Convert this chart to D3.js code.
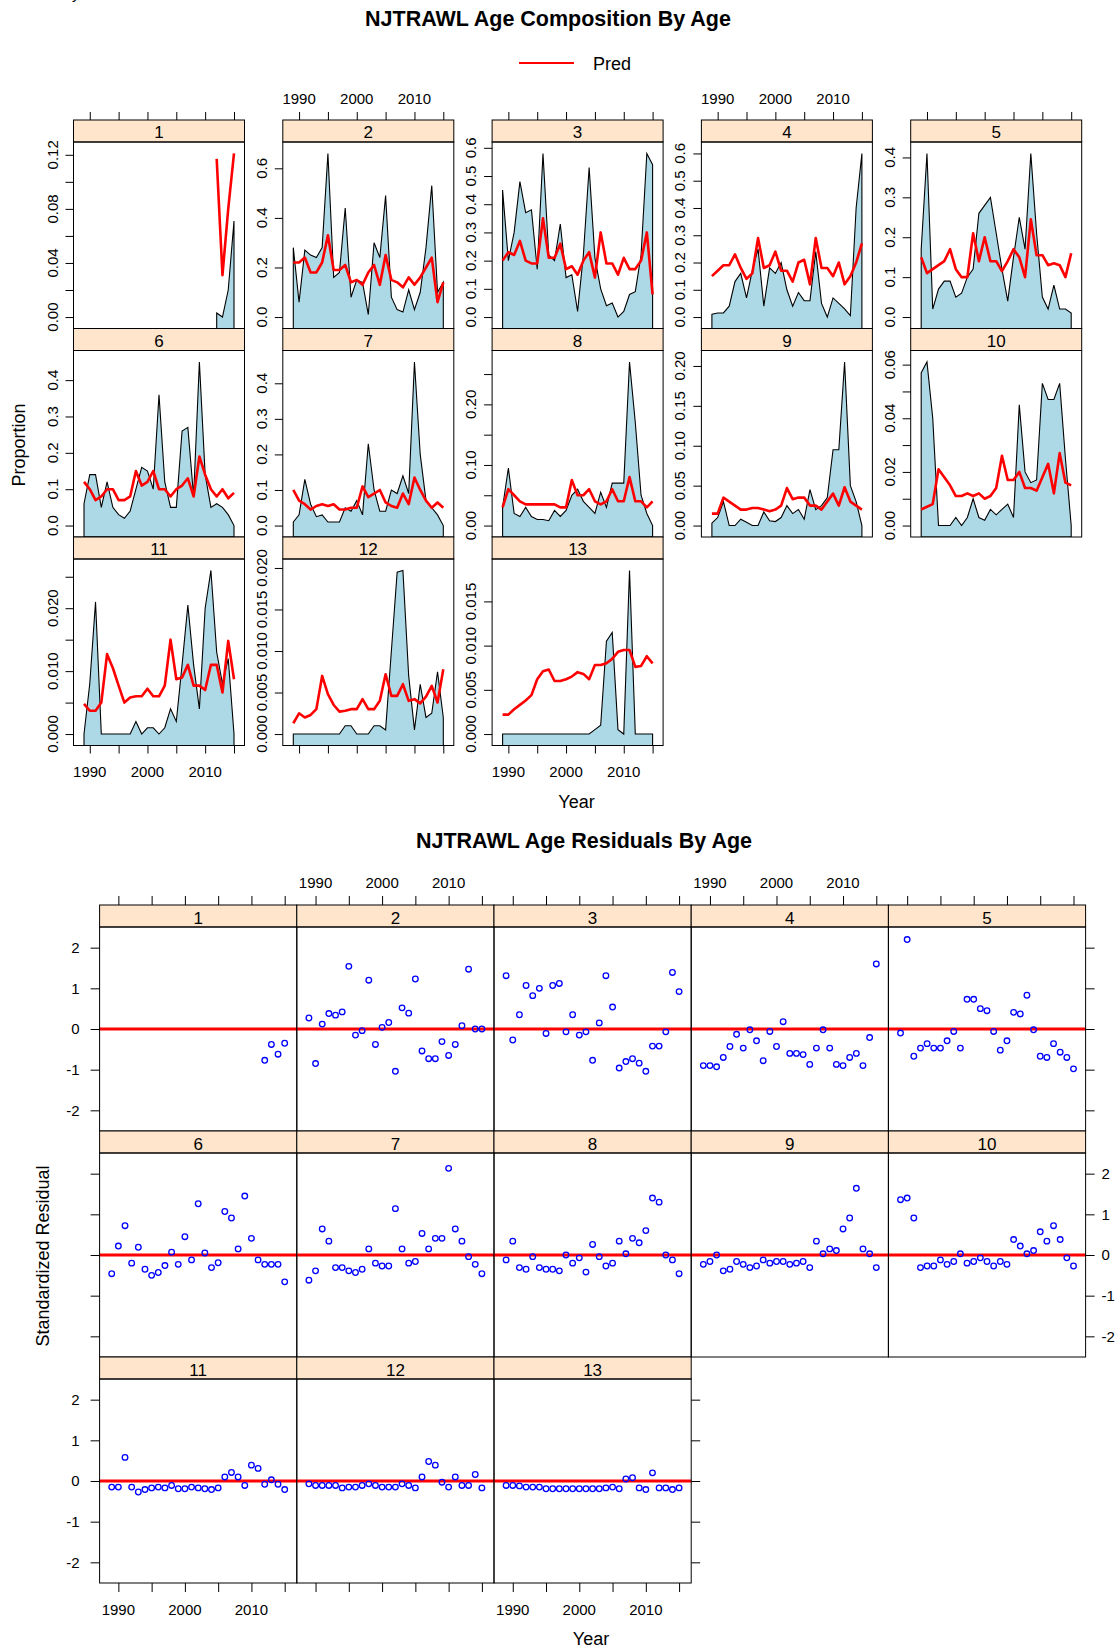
<!DOCTYPE html>
<html><head><meta charset="utf-8">
<script src="https://cdnjs.cloudflare.com/ajax/libs/d3/7.8.5/d3.min.js"></script>
<style>body{margin:0;background:#fff} svg{display:block;font-family:"Liberation Sans",Arial,Helvetica,sans-serif}</style>
</head><body><svg id="c" width="1120" height="1650"></svg>
<script>
// ---------------- DATA ----------------
const years = [1989,1990,1991,1992,1993,1994,1995,1996,1997,1998,1999,2000,2001,2002,2003,2004,2005,2006,2007,2008,2009,2010,2011,2012,2013,2014,2015];
const ages = ["1","2","3","4","5","6","7","8","9","10","11","12","13"];

const obs_1  = [null,null,null,null,null,null,null,null,null,null,null,null,null,null,null,null,null,null,null,null,null,null,null,0.003,0.0,0.02,0.071];
const pred_1 = [null,null,null,null,null,null,null,null,null,null,null,null,null,null,null,null,null,null,null,null,null,null,null,0.117,0.031,0.08,0.121];
const obs_2  = [0.28,0.06,0.27,0.25,0.24,0.28,0.66,0.16,0.18,0.44,0.08,0.15,0.14,0.01,0.30,0.24,0.49,0.08,0.03,0.02,0.11,0.03,0.10,0.28,0.53,0.10,0.14];
const pred_2 = [0.22,0.22,0.24,0.18,0.18,0.22,0.33,0.19,0.19,0.21,0.14,0.15,0.13,0.18,0.21,0.13,0.25,0.15,0.14,0.12,0.16,0.13,0.16,0.20,0.24,0.06,0.14];
const obs_3  = [0.45,0.20,0.30,0.48,0.37,0.38,0.17,0.58,0.22,0.20,0.33,0.14,0.15,0.02,0.22,0.53,0.21,0.10,0.04,0.05,0.00,0.02,0.08,0.09,0.22,0.58,0.54];
const pred_3 = [0.20,0.23,0.22,0.27,0.20,0.19,0.19,0.35,0.21,0.21,0.26,0.17,0.18,0.15,0.20,0.23,0.14,0.30,0.19,0.19,0.15,0.21,0.17,0.17,0.20,0.30,0.08];
const obs_4  = [0.01,0.015,0.015,0.04,0.13,0.16,0.07,0.17,0.25,0.04,0.18,0.16,0.20,0.10,0.04,0.09,0.06,0.06,0.24,0.05,0.00,0.07,0.05,0.03,0.005,0.40,0.60];
const pred_4 = [0.15,0.17,0.19,0.19,0.23,0.18,0.14,0.16,0.29,0.18,0.19,0.24,0.17,0.17,0.13,0.20,0.21,0.12,0.29,0.18,0.18,0.15,0.20,0.12,0.15,0.20,0.27];
const obs_5  = [0.17,0.41,0.02,0.07,0.09,0.09,0.05,0.06,0.10,0.12,0.26,0.28,0.30,0.21,0.12,0.04,0.15,0.25,0.17,0.41,0.21,0.05,0.02,0.08,0.02,0.02,0.01];
const pred_5 = [0.15,0.11,0.12,0.13,0.14,0.17,0.12,0.10,0.10,0.21,0.14,0.20,0.14,0.14,0.115,0.14,0.17,0.15,0.10,0.245,0.155,0.155,0.13,0.135,0.13,0.10,0.16];
const obs_6  = [0.06,0.14,0.14,0.05,0.12,0.05,0.03,0.02,0.04,0.10,0.16,0.15,0.10,0.36,0.12,0.05,0.05,0.26,0.27,0.08,0.45,0.14,0.05,0.06,0.05,0.03,0.00];
const pred_6 = [0.12,0.10,0.07,0.08,0.10,0.10,0.07,0.07,0.08,0.15,0.11,0.12,0.15,0.10,0.10,0.08,0.10,0.11,0.13,0.08,0.19,0.14,0.10,0.08,0.10,0.075,0.09];
const obs_7  = [0.01,0.03,0.13,0.06,0.025,0.03,0.01,0.01,0.01,0.05,0.04,0.07,0.03,0.23,0.10,0.04,0.04,0.10,0.09,0.14,0.09,0.46,0.20,0.07,0.05,0.03,0.00];
const pred_7 = [0.10,0.07,0.06,0.045,0.055,0.06,0.055,0.06,0.045,0.045,0.05,0.05,0.11,0.08,0.09,0.10,0.065,0.055,0.05,0.09,0.06,0.135,0.10,0.07,0.05,0.065,0.05];
const obs_8  = [0.03,0.095,0.02,0.015,0.03,0.015,0.01,0.01,0.008,0.025,0.015,0.025,0.05,0.06,0.04,0.03,0.02,0.055,0.03,0.07,0.07,0.07,0.27,0.17,0.05,0.02,0.00];
const pred_8 = [0.03,0.06,0.05,0.04,0.035,0.035,0.035,0.035,0.035,0.035,0.03,0.03,0.075,0.05,0.05,0.06,0.04,0.035,0.04,0.06,0.04,0.04,0.08,0.04,0.04,0.03,0.04];
const obs_9  = [0.003,0.01,0.03,0.0,0.0,0.008,0.004,0.0,0.0,0.017,0.006,0.005,0.01,0.025,0.015,0.02,0.008,0.045,0.02,0.025,0.035,0.095,0.095,0.205,0.05,0.03,0.0];
const pred_9 = [0.015,0.015,0.035,0.03,0.025,0.02,0.02,0.022,0.022,0.02,0.018,0.02,0.025,0.047,0.033,0.035,0.035,0.025,0.025,0.02,0.03,0.04,0.025,0.048,0.03,0.025,0.02];
const obs_10 = [0.057,0.061,0.04,0.0,0.0,0.0,0.003,0.0,0.003,0.01,0.003,0.002,0.006,0.004,0.006,0.008,0.003,0.045,0.02,0.016,0.017,0.053,0.047,0.047,0.053,0.025,0.0];
const pred_10= [0.006,0.007,0.008,0.021,0.018,0.015,0.011,0.011,0.012,0.011,0.012,0.010,0.011,0.014,0.026,0.017,0.017,0.02,0.014,0.014,0.013,0.018,0.023,0.012,0.027,0.016,0.015];
const obs_11 = [0.0,0.008,0.021,0.0,0.0,0.0,0.0,0.0,0.0,0.002,0.0,0.001,0.001,0.0,0.001,0.004,0.002,0.011,0.0205,0.011,0.004,0.02,0.026,0.013,0.008,0.012,0.0];
const pred_11= [0.0048,0.0037,0.0037,0.005,0.0127,0.0105,0.0077,0.005,0.0058,0.006,0.006,0.0072,0.006,0.006,0.0077,0.015,0.0087,0.009,0.011,0.0077,0.0077,0.007,0.011,0.011,0.0066,0.0148,0.0087];
const obs_12 = [0,0,0,0,0,0,0,0,0,0.001,0.001,0,0,0,0.001,0.001,0.0005,0.01,0.0195,0.0197,0.007,0.0005,0.006,0.002,0.0025,0.0075,0.002];
const pred_12= [0.0013,0.0025,0.002,0.0023,0.003,0.007,0.0048,0.0035,0.0027,0.0028,0.003,0.003,0.0042,0.003,0.003,0.004,0.0072,0.0046,0.0046,0.006,0.004,0.0042,0.0037,0.0045,0.0058,0.0038,0.0078];
const obs_13 = [0,0,0,0,0,0,0,0,0,0,0,0,0,0,0,0,0.0005,0.001,0.0105,0.0115,0.0005,0.0,0.0185,0,0,0,0];
const pred_13= [0.0022,0.0022,0.0028,0.0033,0.0038,0.0044,0.0062,0.0071,0.0073,0.006,0.006,0.0062,0.0065,0.007,0.0068,0.0062,0.0078,0.0078,0.008,0.0085,0.0093,0.0095,0.0095,0.0076,0.0077,0.0088,0.008];

const res_1  = [null,null,null,null,null,null,null,null,null,null,null,null,null,null,null,null,null,null,null,null,null,null,null,-0.77,-0.38,-0.62,-0.35];
const res_2  = [0.27,-0.85,0.12,0.38,0.34,0.42,1.54,-0.15,-0.04,1.2,-0.38,0.04,0.16,-1.04,0.52,0.39,1.23,-0.54,-0.73,-0.73,-0.31,-0.65,-0.38,0.08,1.47,0.0,0.0];
const res_3  = [1.31,-0.27,0.35,1.07,0.82,1.0,-0.11,1.07,1.12,-0.07,0.35,-0.15,-0.07,-0.77,0.15,1.31,0.54,-0.96,-0.8,-0.73,-0.84,-1.04,-0.42,-0.42,-0.07,1.39,0.92];
const res_4  = [-0.9,-0.9,-0.93,-0.7,-0.43,-0.13,-0.47,-0.02,-0.29,-0.78,-0.06,-0.43,0.18,-0.6,-0.6,-0.63,-0.87,-0.47,-0.02,-0.47,-0.87,-0.9,-0.7,-0.6,-0.9,-0.21,1.6];
const res_5  = [-0.1,2.2,-0.67,-0.47,-0.36,-0.47,-0.47,-0.29,-0.06,-0.47,0.73,0.73,0.5,0.45,-0.06,-0.52,-0.29,0.41,0.37,0.83,-0.02,-0.67,-0.7,-0.36,-0.57,-0.7,-0.98];
const res_6  = [-0.46,0.22,0.72,-0.2,0.19,-0.35,-0.5,-0.43,-0.26,0.07,-0.23,0.45,-0.12,1.26,0.05,-0.31,-0.19,1.07,0.91,0.15,1.45,0.41,-0.12,-0.23,-0.23,-0.23,-0.66];
const res_7  = [-0.62,-0.39,0.64,0.34,-0.31,-0.31,-0.39,-0.43,-0.35,0.15,-0.2,-0.27,-0.27,1.14,0.15,-0.2,-0.16,0.53,0.15,0.41,0.41,2.13,0.64,0.34,-0.04,-0.23,-0.46];
const res_8  = [-0.12,0.34,-0.31,-0.35,-0.04,-0.31,-0.35,-0.35,-0.39,0.0,-0.2,-0.07,-0.42,0.26,-0.04,-0.27,-0.2,0.34,0.03,0.41,0.3,0.6,1.4,1.3,0.0,-0.12,-0.46];
const res_9  = [-0.23,-0.16,0.0,-0.39,-0.35,-0.16,-0.23,-0.31,-0.27,-0.12,-0.2,-0.16,-0.16,-0.23,-0.2,-0.16,-0.31,0.34,0.03,0.15,0.11,0.64,0.91,1.64,0.15,0.03,-0.31];
const res_10 = [1.36,1.4,0.91,-0.31,-0.27,-0.27,-0.12,-0.23,-0.16,0.03,-0.2,-0.16,-0.07,-0.16,-0.27,-0.16,-0.23,0.38,0.22,0.03,0.11,0.57,0.34,0.72,0.38,-0.07,-0.27];
const res_11 = [-0.15,-0.15,0.58,-0.15,-0.27,-0.21,-0.17,-0.15,-0.17,-0.11,-0.19,-0.19,-0.15,-0.17,-0.19,-0.21,-0.17,0.1,0.21,0.1,-0.11,0.39,0.31,-0.08,0.03,-0.08,-0.21];
const res_12 = [-0.07,-0.11,-0.11,-0.11,-0.11,-0.17,-0.15,-0.15,-0.11,-0.07,-0.11,-0.15,-0.15,-0.15,-0.07,-0.11,-0.17,0.1,0.48,0.39,-0.03,-0.15,0.1,-0.11,-0.11,0.16,-0.17];
const res_13 = [-0.11,-0.11,-0.12,-0.15,-0.15,-0.15,-0.19,-0.19,-0.19,-0.19,-0.19,-0.19,-0.19,-0.19,-0.19,-0.17,-0.15,-0.19,0.05,0.08,-0.17,-0.21,0.2,-0.17,-0.17,-0.21,-0.17];

// tick settings (y axis per age panel of the composition chart)
const yTickStep   = [0.02,0.2,0.1,0.1,0.1,0.1,0.1,0.05,0.05,0.01,0.005,0.005,0.005];
const yLabelEvery = [2,1,1,1,1,1,1,2,1,2,2,1,1];
const yDecimals   = [2,1,1,1,1,1,1,2,2,2,3,3,3];
const xTicks      = [1990,1995,2000,2005,2010,2015];
const xTickLabels = ["1990","","2000","","2010",""];
const resTicks    = [-2,-1,0,1,2];

const titleTop = "NJTRAWL Age Composition By Age";
const titleBottom = "NJTRAWL Age Residuals By Age";
const legendLabel = "Pred";

// ---------------- DRAW ----------------
const obsList  = [obs_1,obs_2,obs_3,obs_4,obs_5,obs_6,obs_7,obs_8,obs_9,obs_10,obs_11,obs_12,obs_13];
const predList = [pred_1,pred_2,pred_3,pred_4,pred_5,pred_6,pred_7,pred_8,pred_9,pred_10,pred_11,pred_12,pred_13];
const resList  = [res_1,res_2,res_3,res_4,res_5,res_6,res_7,res_8,res_9,res_10,res_11,res_12,res_13];

const svg = d3.select("#c");
const defs = svg.append("defs");
const STRIP = "#FFE5CC", FILL = "#ADD8E6";
const TICKF = 15, STRIPF = 17, LABF = 18, TITLEF = 21.5;

const yr0 = d3.min(years), yr1 = d3.max(years);
const xDom = [yr0 - 0.07*(yr1-yr0), yr1 + 0.07*(yr1-yr0)];

function makeTicks(dom, step){
  const a = Math.ceil(dom[0]/step - 1e-9), b = Math.floor(dom[1]/step + 1e-9);
  return d3.range(a, b+1).map(k => +(k*step).toFixed(6));
}
function txt(g, x, y, s, size, anchor, extra){
  const t = g.append("text").attr("x", x).attr("y", y).attr("font-size", size)
    .attr("text-anchor", anchor || "middle").attr("fill", "#000").text(s);
  if (extra) extra(t);
  return t;
}
function axisStyle(g){ g.select(".domain").remove(); g.selectAll(".tick line").attr("stroke","#000"); g.selectAll(".tick text").remove(); }

// partial glyph at the very top edge (only its tail shows)
svg.append("text").attr("x",72).attr("y",-1).attr("font-size",15).text("y");

// ======== Top chart: composition ========
const T = {left:73.5, pitch:209.3, pw:171, top:120, rowH:208.5, strip:22};
txt(svg, 548, 25.5, titleTop, TITLEF, "middle", t=>t.attr("font-weight","bold"));
// legend
svg.append("line").attr("x1",519).attr("x2",574).attr("y1",63).attr("y2",63).attr("stroke","red").attr("stroke-width",2);
txt(svg, 593, 69.5, legendLabel, LABF, "start");

ages.forEach((age, i) => {
  const r = Math.floor(i/5), c = i % 5;
  const x0 = T.left + c*T.pitch, y0 = T.top + r*T.rowH;
  const py0 = y0 + T.strip, py1 = y0 + T.rowH;
  const x = d3.scaleLinear().domain(xDom).range([x0, x0+T.pw]);
  const vals = obsList[i].concat(predList[i]).filter(v => v != null).concat([0]);
  const ext = d3.extent(vals), d = ext[1]-ext[0];
  const yDom = [ext[0]-0.07*d, ext[1]+0.07*d];
  const y = d3.scaleLinear().domain(yDom).range([py1, py0]);
  const g = svg.append("g");
  const cid = "clipT"+i;
  defs.append("clipPath").attr("id", cid).append("rect")
    .attr("x", x0).attr("y", py0).attr("width", T.pw).attr("height", py1-py0);
  const pts = years.map((yr,k) => [yr, obsList[i][k]]).filter(p => p[1] != null);
  const area = d3.area().x(p => x(p[0])).y0(py1).y1(p => y(p[1]));
  g.append("path").attr("d", area(pts)).attr("fill", FILL).attr("stroke","#000").attr("stroke-width",1.1)
    .attr("clip-path", `url(#${cid})`);
  const line = d3.line().defined(p => p[1] != null).x(p => x(p[0])).y(p => y(p[1]));
  g.append("path").attr("d", line(years.map((yr,k)=>[yr, predList[i][k]]))).attr("fill","none")
    .attr("stroke","red").attr("stroke-width",2.6).attr("stroke-linejoin","round").attr("clip-path", `url(#${cid})`);
  // strip and box
  g.append("rect").attr("x",x0).attr("y",y0).attr("width",T.pw).attr("height",T.strip).attr("fill",STRIP).attr("stroke","#000");
  txt(g, x0+T.pw/2, y0+T.strip-4, age, STRIPF);
  g.append("rect").attr("x",x0).attr("y",py0).attr("width",T.pw).attr("height",py1-py0).attr("fill","none").attr("stroke","#000");
  // y axis (free scale)
  const ticks = makeTicks(yDom, yTickStep[i]);
  const ga = g.append("g").attr("transform",`translate(${x0},0)`).call(d3.axisLeft(y).tickValues(ticks).tickSize(8));
  axisStyle(ga);
  const fmt = d3.format("."+yDecimals[i]+"f");
  ticks.forEach(v => {
    if (Math.round(v/yTickStep[i]) % yLabelEvery[i] !== 0) return;
    const ty = y(v);
    txt(g, 0, 0, fmt(v), TICKF, "middle", t => t.attr("transform", `translate(${x0-16},${ty}) rotate(-90)`));
  });
  // top axis on first row
  if (r === 0) {
    const gt = g.append("g").attr("transform",`translate(0,${y0})`).call(d3.axisTop(x).tickValues(xTicks).tickSize(8));
    axisStyle(gt);
    if (c % 2 === 1) xTicks.forEach((v,k) => { if (xTickLabels[k]) txt(g, x(v), 104, xTickLabels[k], TICKF); });
  }
  // bottom axis on last row
  if (r === 2) {
    const gb = g.append("g").attr("transform",`translate(0,${py1})`).call(d3.axisBottom(x).tickValues(xTicks).tickSize(8));
    axisStyle(gb);
    if (c % 2 === 0) xTicks.forEach((v,k) => { if (xTickLabels[k]) txt(g, x(v), 777, xTickLabels[k], TICKF); });
  }
});
txt(svg, 576.5, 808, "Year", LABF);
txt(svg, 0, 0, "Proportion", LABF, "middle", t => t.attr("transform","translate(25,445) rotate(-90)"));

// ======== Bottom chart: residuals ========
const B = {left:99.6, pitch:197.2, pw:197.2, top:905, rowH:226, strip:22};
txt(svg, 584, 847.5, titleBottom, TITLEF, "middle", t=>t.attr("font-weight","bold"));
const rmax = d3.max(resList.flat().filter(v => v != null).map(Math.abs));
const rDom = [-rmax - 0.14*rmax, rmax + 0.14*rmax];

ages.forEach((age, i) => {
  const r = Math.floor(i/5), c = i % 5;
  const x0 = B.left + c*B.pitch, y0 = B.top + r*B.rowH;
  const py0 = y0 + B.strip, py1 = y0 + B.rowH;
  const x = d3.scaleLinear().domain(xDom).range([x0, x0+B.pw]);
  const y = d3.scaleLinear().domain(rDom).range([py1, py0]);
  const g = svg.append("g");
  g.append("rect").attr("x",x0).attr("y",y0).attr("width",B.pw).attr("height",B.strip).attr("fill",STRIP).attr("stroke","#000");
  txt(g, x0+B.pw/2, y0+B.strip-3, age, STRIPF);
  g.append("line").attr("x1",x0).attr("x2",x0+B.pw).attr("y1",y(0)).attr("y2",y(0)).attr("stroke","red").attr("stroke-width",3);
  const pts = years.map((yr,k)=>[yr, resList[i][k]]).filter(p => p[1] != null);
  g.selectAll("circle").data(pts).join("circle").attr("cx", p => x(p[0])).attr("cy", p => y(p[1]))
    .attr("r", 2.8).attr("fill","none").attr("stroke","#0000FF").attr("stroke-width",1.3);
  g.append("rect").attr("x",x0).attr("y",py0).attr("width",B.pw).attr("height",py1-py0).attr("fill","none").attr("stroke","#000");
  // top axis
  if (r === 0) {
    const gt = g.append("g").attr("transform",`translate(0,${y0})`).call(d3.axisTop(x).tickValues(xTicks).tickSize(9));
    axisStyle(gt);
    if (c % 2 === 1) xTicks.forEach((v,k) => { if (xTickLabels[k]) txt(g, x(v), 887.5, xTickLabels[k], TICKF); });
  }
  // bottom axis
  if (r === 2) {
    const gb = g.append("g").attr("transform",`translate(0,${py1})`).call(d3.axisBottom(x).tickValues(xTicks).tickSize(9));
    axisStyle(gb);
    if (c % 2 === 0) xTicks.forEach((v,k) => { if (xTickLabels[k]) txt(g, x(v), 1614.5, xTickLabels[k], TICKF); });
  }
  // left axis
  if (c === 0) {
    const gl = g.append("g").attr("transform",`translate(${x0},0)`).call(d3.axisLeft(y).tickValues(resTicks).tickSize(9));
    axisStyle(gl);
    if (r % 2 === 0) resTicks.forEach(v => txt(g, x0-20, y(v)+5.3, String(v), TICKF, "end"));
  }
  // right axis (last panel in each row)
  const lastInRow = (c === 4) || (i === ages.length-1);
  if (lastInRow) {
    const xr = x0 + B.pw;
    const gr = g.append("g").attr("transform",`translate(${xr},0)`).call(d3.axisRight(y).tickValues(resTicks).tickSize(9));
    axisStyle(gr);
    if (r % 2 === 1) resTicks.forEach(v => txt(g, xr+16, y(v)+5.3, String(v), TICKF, "start"));
  }
});
txt(svg, 591, 1645, "Year", LABF);
txt(svg, 0, 0, "Standardized Residual", LABF, "middle", t => t.attr("transform","translate(49,1256) rotate(-90)"));
</script>
</body></html>
